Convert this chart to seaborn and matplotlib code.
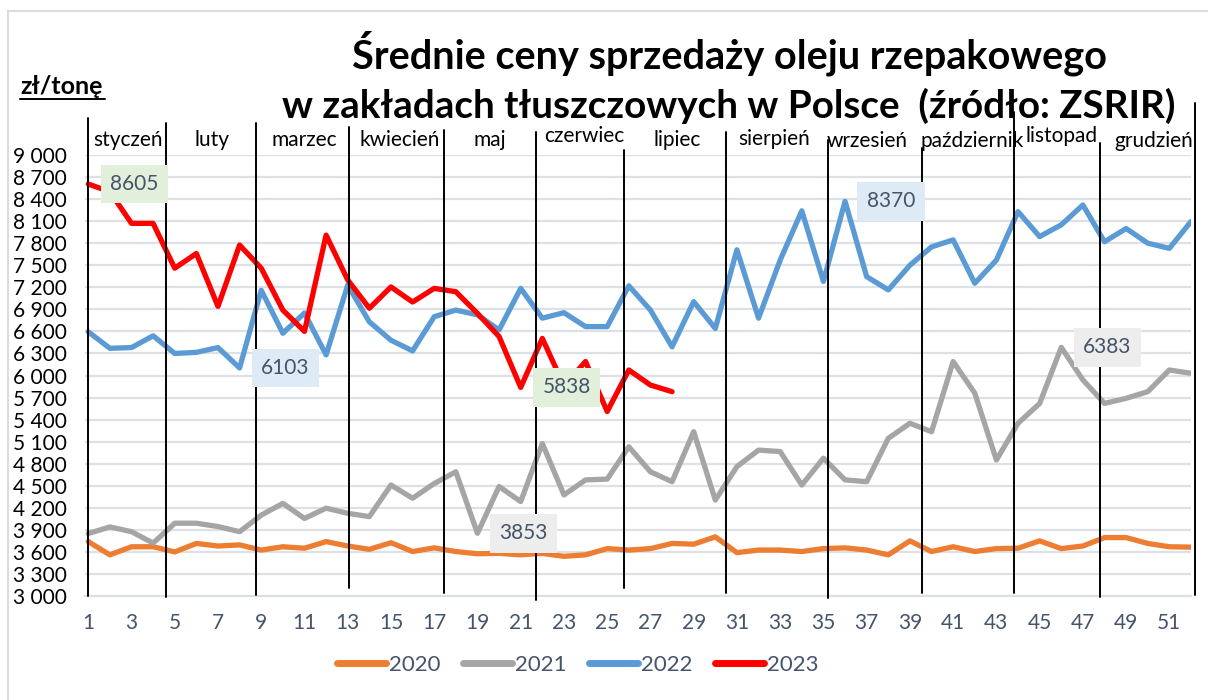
import numpy as np
import pandas as pd
import matplotlib
matplotlib.use("Agg")
import matplotlib.pyplot as plt
import matplotlib.transforms as mtransforms
from matplotlib.lines import Line2D
from matplotlib.ticker import FuncFormatter
import seaborn as sns

# weekly average prices of rapeseed oil, zł/tonne
tygodnie = list(range(1, 53))
ceny_2020 = [3740, 3560, 3670, 3670, 3600, 3715, 3680, 3695, 3625, 3670, 3650, 3740, 3680,
             3635, 3725, 3605, 3655, 3605, 3575, 3580, 3560, 3580, 3540, 3560, 3645, 3625,
             3645, 3715, 3705, 3805, 3590, 3625, 3625, 3605, 3645, 3655, 3625, 3560, 3750,
             3605, 3670, 3605, 3645, 3650, 3750, 3645, 3680, 3795, 3795, 3715, 3670, 3665]
ceny_2021 = [3850, 3940, 3875, 3720, 3990, 3990, 3945, 3875, 4100, 4260, 4055, 4195, 4125,
             4080, 4510, 4330, 4530, 4690, 3853, 4490, 4285, 5075, 4375, 4580, 4590, 5030,
             4690, 4555, 5235, 4305, 4760, 4985, 4965, 4510, 4875, 4580, 4555, 5145, 5350,
             5235, 6190, 5760, 4850, 5350, 5620, 6383, 5940, 5620, 5690, 5780, 6075, 6030]
ceny_2022 = [6595, 6370, 6380, 6540, 6300, 6315, 6380, 6103, 7160, 6575, 6850, 6280, 7230,
             6730, 6480, 6335, 6800, 6890, 6825, 6620, 7185, 6780, 6855, 6665, 6665, 7220,
             6890, 6390, 7005, 6640, 7710, 6780, 7570, 8240, 7280, 8370, 7345, 7165, 7500,
             7750, 7845, 7255, 7570, 8230, 7890, 8050, 8320, 7820, 8000, 7800, 7730, 8095]
ceny_2023 = [8605, 8500, 8070, 8070, 7460, 7660, 6940, 7775, 7460, 6890, 6600, 7910, 7300,
             6915, 7205, 7000, 7185, 7140, 6845, 6530, 5838, 6505, 5860, 6190, 5510, 6075,
             5870, 5780]

lata = ["2020", "2021", "2022", "2023"]
kolory = {"2020": "#ed7d31", "2021": "#a5a5a5", "2022": "#5b9bd5", "2023": "#ff0000"}
tla_etykiet = {"2021": "#ededed", "2022": "#deebf7", "2023": "#e2efda"}

miesiace = ["styczeń", "luty", "marzec", "kwiecień", "maj", "czerwiec", "lipiec",
            "sierpień", "wrzesień", "październik", "listopad", "grudzień"]
# month separators drawn on the chart, in week units
granice = [0.97, 4.59, 8.74, 13.07, 17.46, 21.7, 25.77, 30.5, 35.2, 39.57, 43.8, 47.8, 52.2]

# labelled points: (year, week)
etykiety = [("2023", 1), ("2022", 8), ("2023", 21), ("2021", 19), ("2022", 36), ("2021", 46)]

serie = {"2020": ceny_2020, "2021": ceny_2021, "2022": ceny_2022, "2023": ceny_2023}
df = pd.concat(
    [pd.DataFrame({"tydzien": tygodnie[:len(v)], "cena": v, "rok": r}) for r, v in serie.items()],
    ignore_index=True,
)

sns.set_theme(style="white")
plt.rcParams["font.family"] = ["Lato", "DejaVu Sans"]

W, H = 1208, 700
fig = plt.figure(figsize=(W / 100, H / 100), dpi=100)
ax_bottom, ax_top = 596, 155
ax = fig.add_axes([85 / W, 1 - ax_bottom / H, 1106 / W, (ax_bottom - ax_top) / H])

sns.lineplot(data=df, x="tydzien", y="cena", hue="rok", hue_order=lata, palette=kolory,
             linewidth=3.8, legend=False, ax=ax)
for ln in ax.lines:
    ln.set_solid_joinstyle("round")
    ln.set_solid_capstyle("round")

ax.set_xlim(0.85, 52.0)
ax.set_ylim(3000, 9000)
ax.set_yticks(np.arange(3000, 9001, 300))
ax.yaxis.set_major_formatter(FuncFormatter(lambda v, p: f"{int(v):,}".replace(",", " ")))
ax.set_xticks(tygodnie)
ax.set_xticklabels([str(t) if t % 2 else "" for t in tygodnie])
ax.set_xlabel("")
ax.set_ylabel("")

grid_col = "#dde1e6"
ax.yaxis.grid(True, color=grid_col, linewidth=1.6)
ax.set_axisbelow(True)
for s in ["top", "right", "left"]:
    ax.spines[s].set_visible(False)
ax.spines["bottom"].set_color(grid_col)
ax.spines["bottom"].set_linewidth(1.6)
ax.tick_params(axis="y", length=0, pad=13, labelsize=15, labelcolor="black")
ax.tick_params(axis="x", direction="out", length=5, width=1.2, color=grid_col,
               pad=7, labelsize=15, labelcolor="#44546a")

# month separators
trans = mtransforms.blended_transform_factory(ax.transData, ax.transAxes)
tops = [118, 123, 123, 127, 130, 132, 150, 132, 140, 148, 112, 143, 103]
bottoms = [596, 597, 595, 588, 593, 600, 588, 593, 598, 593, 593, 597, 595]
to_ax = lambda py: (ax_bottom - py) / (ax_bottom - ax_top)
for g, t, b in zip(granice, tops, bottoms):
    ax.plot([g, g], [to_ax(b), to_ax(t)], transform=trans, color="black", lw=1.4,
            clip_on=False, zorder=5)

# month names (centre in week units, baseline in pixels)
srodki = [2.84, 6.72, 10.98, 15.42, 19.58, 23.93, 28.22, 32.71, 37.0, 41.9, 46.03, 50.29]
baselines = [146, 146, 146, 146, 146, 142, 146, 145, 147, 147, 142, 147]
for m, xm, yb in zip(miesiace, srodki, baselines):
    ax.text(xm, to_ax(yb), m, transform=trans, ha="center", va="baseline",
            fontsize=15, color="black", clip_on=False)

# data labels
for rok, t in etykiety:
    v = serie[rok][t - 1]
    ax.annotate(f"{v}", xy=(t, v), xytext=(46, 0), textcoords="offset pixels",
                ha="center", va="center", fontsize=15, color="#44546a", zorder=6,
                bbox=dict(boxstyle="square,pad=0.45", fc=tla_etykiet[rok], ec="none"))

# titles
fig.text(730 / W, 1 - 68 / H, "Średnie ceny sprzedaży oleju rzepakowego",
         ha="center", va="baseline", fontsize=28.5, fontweight="bold", color="black")
fig.text(729 / W, 1 - 118 / H, "w zakładach tłuszczowych w Polsce  (źródło: ZSRIR)",
         ha="center", va="baseline", fontsize=27.8, fontweight="bold", color="black")
fig.text(20 / W, 1 - 94 / H, "zł/tonę", ha="left", va="baseline", fontsize=18,
         fontweight="bold", color="black")
fig.add_artist(Line2D([20 / W, 105 / W], [1 - 99 / H, 1 - 99 / H], color="black", lw=1.4))

# outer border
fig.add_artist(Line2D([8 / W, 1], [1 - 11 / H, 1 - 11 / H], color="#d9dde3", lw=1.5))
fig.add_artist(Line2D([8 / W, 8 / W], [0, 1 - 11 / H], color="#d9dde3", lw=1.5))

# legend
handles = [Line2D([0], [0], color=kolory[r], lw=5, solid_capstyle="round") for r in lata]
fig.legend(handles, lata, loc="center", bbox_to_anchor=(578 / W, 1 - 665 / H), ncol=4,
           frameon=False, fontsize=16, handlelength=2.2, handletextpad=0.15,
           columnspacing=1.0, labelcolor="#44546a")

fig.savefig("out.png", dpi=100)
